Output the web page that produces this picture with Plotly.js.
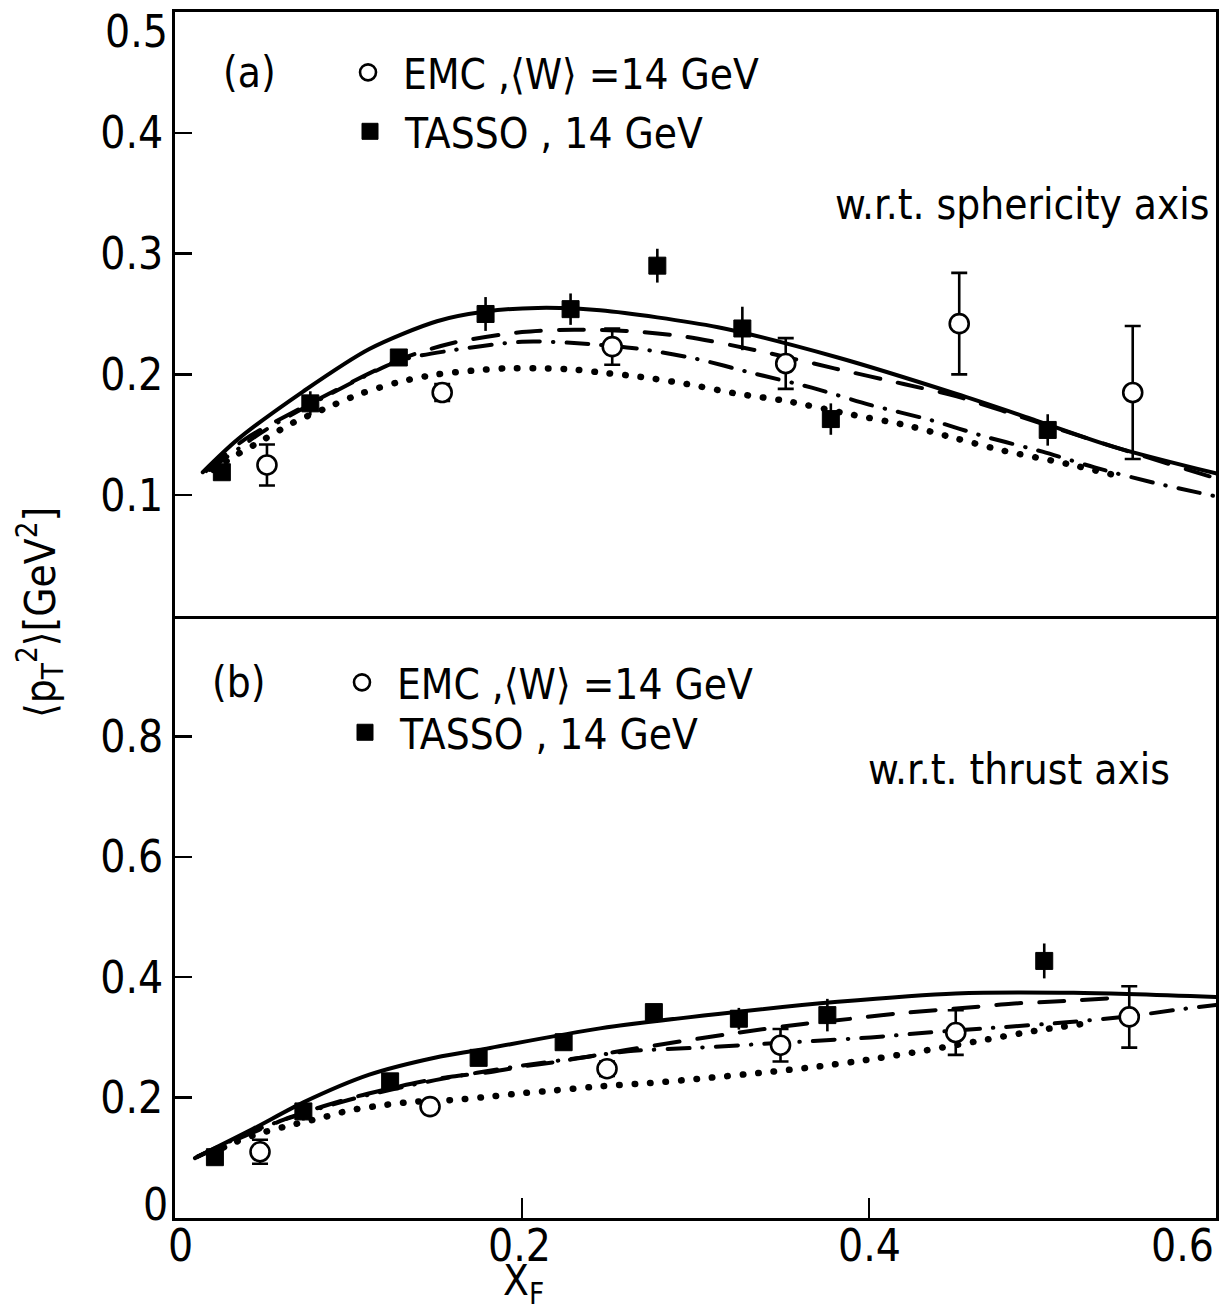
<!DOCTYPE html>
<html>
<head>
<meta charset="utf-8">
<script src="https://cdn.plot.ly/plotly-3.0.1.min.js"></script>
<style>
html,body{margin:0;padding:0;background:#fff;}
#chart{width:1226px;height:1310px;}
#chart .scatterlayer .js-line{stroke-linecap:round;}
</style>
</head>
<body>
<div id="chart"></div>
<script>
// ---------- Panel (a): w.r.t. sphericity axis ----------
const emcA_x   = [0.053, 0.154, 0.252, 0.352, 0.452, 0.552];
const emcA_y   = [0.125, 0.185, 0.223, 0.209, 0.242, 0.185];
const emcA_err = [0.017, 0.007, 0.015, 0.021, 0.042, 0.055];

const tassoA_x   = [0.027, 0.078, 0.129, 0.179, 0.228, 0.278, 0.327, 0.378, 0.503];
const tassoA_y   = [0.119, 0.176, 0.214, 0.250, 0.254, 0.290, 0.238, 0.163, 0.154];
const tassoA_err = [0.005, 0.010, 0.006, 0.014, 0.013, 0.014, 0.018, 0.013, 0.013];

const solidA_x = [0.016, 0.036, 0.074, 0.112, 0.151, 0.179, 0.209, 0.245, 0.313, 0.382, 0.450, 0.496, 0.541, 0.600];
const solidA_y = [0.119, 0.146, 0.186, 0.221, 0.244, 0.252, 0.255, 0.253, 0.239, 0.214, 0.184, 0.162, 0.140, 0.118];

const dashA_x = [0.018, 0.040, 0.078, 0.129, 0.160, 0.200, 0.230, 0.260, 0.295, 0.338, 0.380, 0.420, 0.450, 0.500, 0.550, 0.600];
const dashA_y = [0.120, 0.146, 0.176, 0.212, 0.226, 0.235, 0.237, 0.236, 0.231, 0.219, 0.205, 0.192, 0.182, 0.159, 0.136, 0.114];

const dashdotA_x = [0.020, 0.050, 0.078, 0.129, 0.160, 0.200, 0.230, 0.268, 0.300, 0.333, 0.367, 0.400, 0.436, 0.468, 0.500, 0.530, 0.565, 0.600];
const dashdotA_y = [0.121, 0.152, 0.175, 0.211, 0.220, 0.227, 0.226, 0.221, 0.213, 0.201, 0.189, 0.175, 0.162, 0.148, 0.136, 0.123, 0.110, 0.099];

const dotA_x = [0.022, 0.035, 0.051, 0.068, 0.087, 0.107, 0.130, 0.151, 0.171, 0.190, 0.210, 0.230, 0.249, 0.268, 0.295, 0.324, 0.352, 0.389, 0.421, 0.450, 0.477, 0.514, 0.546];
const dotA_y = [0.121, 0.133, 0.146, 0.160, 0.172, 0.184, 0.194, 0.200, 0.203, 0.205, 0.205, 0.204, 0.201, 0.198, 0.192, 0.184, 0.178, 0.167, 0.158, 0.147, 0.137, 0.126, 0.115];

// ---------- Panel (b): w.r.t. thrust axis ----------
const emcB_x   = [0.049, 0.147, 0.249, 0.349, 0.450, 0.550];
const emcB_y   = [0.110, 0.185, 0.248, 0.287, 0.308, 0.334];
const emcB_err = [0.020, 0.004, 0.012, 0.027, 0.037, 0.051];

const tassoB_x   = [0.023, 0.074, 0.124, 0.175, 0.224, 0.276, 0.325, 0.376, 0.501];
const tassoB_y   = [0.101, 0.177, 0.227, 0.266, 0.292, 0.342, 0.331, 0.337, 0.427];
const tassoB_err = [0.012, 0.015, 0.012, 0.012, 0.012, 0.012, 0.018, 0.027, 0.029];

const solidB_x = [0.0115, 0.045, 0.074, 0.112, 0.151, 0.175, 0.245, 0.313, 0.382, 0.450, 0.518, 0.600];
const solidB_y = [0.0995, 0.148, 0.192, 0.238, 0.267, 0.279, 0.315, 0.339, 0.359, 0.373, 0.374, 0.367];

const dashB_x = [0.013, 0.031, 0.066, 0.086, 0.105, 0.141, 0.160, 0.183, 0.201, 0.219, 0.238, 0.260, 0.325, 0.361, 0.393, 0.417, 0.442, 0.463, 0.482, 0.504, 0.522, 0.545];
const dashB_y = [0.102, 0.125, 0.167, 0.186, 0.202, 0.226, 0.235, 0.243, 0.252, 0.259, 0.268, 0.279, 0.308, 0.322, 0.332, 0.340, 0.346, 0.351, 0.356, 0.359, 0.362, 0.366];

const dashdotB_x = [0.013, 0.050, 0.100, 0.150, 0.200, 0.238, 0.261, 0.302, 0.332, 0.368, 0.401, 0.434, 0.477, 0.514, 0.550, 0.575, 0.600];
const dashdotB_y = [0.102, 0.150, 0.196, 0.229, 0.253, 0.268, 0.277, 0.283, 0.288, 0.294, 0.300, 0.308, 0.317, 0.325, 0.335, 0.345, 0.354];

const dotB_x = [0.020, 0.030, 0.046, 0.065, 0.084, 0.101, 0.119, 0.137, 0.160, 0.179, 0.199, 0.219, 0.242, 0.273, 0.305, 0.337, 0.369, 0.402, 0.432, 0.467, 0.498, 0.530];
const dotB_y = [0.104, 0.120, 0.138, 0.153, 0.166, 0.179, 0.187, 0.193, 0.196, 0.201, 0.207, 0.212, 0.218, 0.224, 0.232, 0.241, 0.251, 0.264, 0.278, 0.296, 0.312, 0.325];

// ---------- texts / ticks ----------
const emcLabel   = 'EMC ,⟨W⟩ =14 GeV';
const tassoLabel = 'TASSO , 14 GeV';
const panelLabels = ['(a)', '(b)'];
const axisNotes   = ['w.r.t. sphericity axis', 'w.r.t. thrust axis'];
const yTicksA = [0.1, 0.2, 0.3, 0.4];
const yTicksB = [0.2, 0.4, 0.6, 0.8];
const xTickMarks  = [0.2, 0.4];
const xTickLabels = [0, 0.2, 0.4, 0.6];
const yTitle = '⟨p<sub>T</sub><sup>2</sup>⟩[GeV<sup>2</sup>]';
const xTitle = 'X<sub>F</sub>';

const FONT = '"Liberation Sans Narrow", "DejaVu Sans Condensed", "Arial Narrow", "DejaVu Sans", sans-serif';
const BLACK = '#000';

function curve(x, y, dash, width, xa, ya) {
  return {x: x, y: y, mode: 'lines', type: 'scatter', xaxis: xa, yaxis: ya,
    line: {color: BLACK, width: width, dash: dash, shape: 'spline', smoothing: 0.8},
    showlegend: false, hoverinfo: 'skip'};
}
function emc(x, y, e, xa, ya, leg) {
  return {x: x, y: y, mode: 'markers', type: 'scatter', xaxis: xa, yaxis: ya, name: emcLabel,
    legend: leg, showlegend: true,
    marker: {symbol: 'circle', size: 19, color: '#fff', line: {color: BLACK, width: 2.6}},
    error_y: {type: 'data', array: e, visible: true, color: BLACK, thickness: 2.6, width: 8}};
}
function tasso(x, y, e, xa, ya, leg) {
  return {x: x, y: y, mode: 'markers', type: 'scatter', xaxis: xa, yaxis: ya, name: tassoLabel,
    legend: leg, showlegend: true,
    marker: {symbol: 'square', size: 17, color: BLACK, line: {color: BLACK, width: 1}},
    error_y: {type: 'data', array: e, visible: true, color: BLACK, thickness: 2.6, width: 0}};
}

const DASH = '25px,18px';
const DASHDOT = '22px,13px,0.5px,13px';
const DOT = '0.5px,15px';

const data = [
  curve(solidA_x, solidA_y, 'solid', 4, 'x2', 'y2'),
  curve(dashA_x, dashA_y, DASH, 4, 'x2', 'y2'),
  curve(dashdotA_x, dashdotA_y, DASHDOT, 4, 'x2', 'y2'),
  curve(dotA_x, dotA_y, DOT, 6.5, 'x2', 'y2'),
  curve(solidB_x, solidB_y, 'solid', 4, 'x', 'y'),
  curve(dashB_x, dashB_y, DASH, 4, 'x', 'y'),
  curve(dashdotB_x, dashdotB_y, DASHDOT, 4, 'x', 'y'),
  curve(dotB_x, dotB_y, DOT, 6.5, 'x', 'y'),
  emc(emcA_x, emcA_y, emcA_err, 'x2', 'y2', 'legend'),
  tasso(tassoA_x, tassoA_y, tassoA_err, 'x2', 'y2', 'legend2'),
  emc(emcB_x, emcB_y, emcB_err, 'x', 'y', 'legend3'),
  tasso(tassoB_x, tassoB_y, tassoB_err, 'x', 'y', 'legend4')
];

const axisCommon = {showline: true, linecolor: BLACK, linewidth: 3,
  showgrid: false, zeroline: false, ticks: 'inside', tickcolor: BLACK, tickwidth: 2.5,
  tickfont: {family: FONT, size: 44, color: BLACK}};

const SPLIT = 0.4992;
const annFont = {family: FONT, size: 42, color: BLACK};
const tickFont = {family: FONT, size: 44, color: BLACK};
function note(text, x, y, xanchor, extra) {
  return Object.assign({text: text, xref: 'paper', yref: 'paper', x: x, y: y,
    xanchor: xanchor, yanchor: 'middle', showarrow: false, font: annFont}, extra || {});
}
const annotations = [
  note(panelLabels[0], 0.072, 0.950, 'center'),
  note(panelLabels[1], 0.061, 0.4444, 'center'),
  note(axisNotes[0], 0.996, 0.840, 'right'),
  note(axisNotes[1], 0.958, 0.3723, 'right'),
  note(yTitle, -0.1297, 0.5025, 'center', {textangle: -90}),
  note(xTitle, 0.335, -0.0545, 'center'),
  // edge y tick labels placed as in the original
  {text: '0.5', xref: 'paper', yref: 'y2', x: 0, y: 0.5, xanchor: 'right', yanchor: 'top', xshift: -5, yshift: 8, showarrow: false, font: tickFont},
  {text: '0', xref: 'paper', yref: 'y', x: 0, y: 0, xanchor: 'right', yanchor: 'middle', xshift: -5, yshift: 14, showarrow: false, font: tickFont}
].concat(xTickLabels.map(v => ({
  text: v === 0 ? '0' : v.toFixed(1), xref: 'x', yref: 'paper', x: v, y: -0.0232,
  xanchor: v === 0.6 ? 'right' : 'center', yanchor: 'middle', xshift: v === 0 ? 5 : (v === 0.2 ? -3 : 0),
  showarrow: false, font: tickFont
})));

function leg(x, y) {
  return {font: {family: FONT, size: 42, color: BLACK}, bgcolor: 'rgba(0,0,0,0)',
    borderwidth: 0, xanchor: 'left', yanchor: 'top', itemwidth: 60, x: x, y: y};
}

const layout = {
  width: 1226, height: 1310,
  margin: {l: 175, r: 10, t: 12, b: 92},
  paper_bgcolor: '#fff', plot_bgcolor: '#fff',
  font: {family: FONT, color: BLACK},
  xaxis: Object.assign({}, axisCommon, {domain: [0, 1], range: [0, 0.6], anchor: 'y', mirror: false,
    tickvals: xTickMarks, showticklabels: false, ticklen: 20}),
  yaxis: Object.assign({}, axisCommon, {domain: [0, SPLIT], range: [0, 1.0], anchor: 'x', mirror: true,
    tickvals: yTicksB, ticktext: yTicksB.map(v => v.toFixed(1)), ticklen: 17}),
  xaxis2: Object.assign({}, axisCommon, {domain: [0, 1], range: [0, 0.6], anchor: 'y2', mirror: true,
    matches: 'x', ticks: '', showticklabels: false}),
  yaxis2: Object.assign({}, axisCommon, {domain: [SPLIT, 1], range: [0, 0.5], anchor: 'x2', mirror: true,
    tickvals: yTicksA, ticktext: yTicksA.map(v => v.toFixed(1)), ticklen: 17}),
  legend:  leg(0.1518, 0.978),
  legend2: leg(0.1537, 0.9291),
  legend3: leg(0.1460, 0.4722),
  legend4: leg(0.1489, 0.4308),
  annotations: annotations,
  showlegend: true
};

Plotly.newPlot('chart', data, layout, {displayModeBar: false, staticPlot: true});
</script>
</body>
</html>
